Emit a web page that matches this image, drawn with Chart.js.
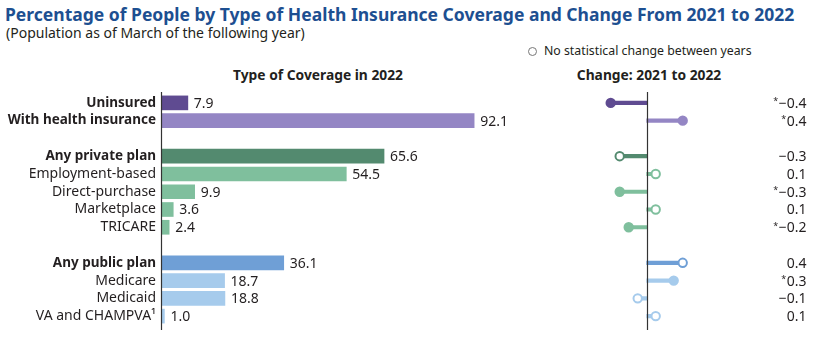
<!DOCTYPE html>
<html>
<head>
<meta charset="utf-8">
<script src="https://cdn.jsdelivr.net/npm/chart.js@4/dist/chart.umd.min.js"></script>
<style>
    body { margin: 0; background: #fff; font-family: "Noto Sans", sans-serif; }
    #wrap { position: relative; width: 832px; height: 350px; overflow: hidden; }
    .txt { position: absolute; white-space: nowrap; color: #231f20; }
    #title { left: 5px; top: 2px; font-size: 17.5px; font-weight: bold; color: #1d4f91; }
    #subtitle { left: 6px; top: 23px; font-size: 14px; }
    #legend { left: 528px; top: 42px; font-size: 12.3px; }
    #legend span.dot { display: inline-block; width: 7px; height: 7px; border: 1.5px solid #777; border-radius: 50%; margin-right: 7px; vertical-align: -1px; }
    .head { top: 65px; font-size: 13.8px; font-weight: bold; transform: translateX(-50%); }
    canvas { position: absolute; top: 0; }
</style>
</head>
<body>
<div id="wrap">
    <div class="txt" id="title">Percentage of People by Type of Health Insurance Coverage and Change From 2021 to 2022</div>
    <div class="txt" id="subtitle">(Population as of March of the following year)</div>
    <div class="txt" id="legend"><span class="dot"></span>No statistical change between years</div>
    <div class="txt head" style="left:318px">Type of Coverage in 2022</div>
    <div class="txt head" style="left:649px">Change: 2021 to 2022</div>
    <canvas id="coverage" style="left:0" width="560" height="350"></canvas>
    <canvas id="change" style="left:560px" width="272" height="350"></canvas>
</div>
<script>
const categories = ['Uninsured', 'With health insurance', '', 'Any private plan', 'Employment-based',
    'Direct-purchase', 'Marketplace', 'TRICARE', '', 'Any public plan', 'Medicare', 'Medicaid', 'VA and CHAMPVA\u00b9'];
const coverage2022 = [7.9, 92.1, null, 65.6, 54.5, 9.9, 3.6, 2.4, null, 36.1, 18.7, 18.8, 1.0];
const change = [-0.4, 0.4, null, -0.3, 0.1, -0.3, 0.1, -0.2, null, 0.4, 0.3, -0.1, 0.1];
const significant = [true, true, null, false, false, true, false, true, null, false, true, false, false];
const headerRows = [true, true, false, true, false, false, false, false, false, true, false, false, false];

const rowColors = ['#5f4b91', '#9486c4', null, '#538a6f', '#7fbf9d', '#7fbf9d', '#7fbf9d', '#7fbf9d',
    null, '#6f9fd6', '#a6cbec', '#a6cbec', '#a6cbec'];

const FONT = '"Noto Sans", sans-serif';
const TEXT = '#231f20';

// vertical axis line drawn by hand so it runs a bit past the rows
function axisLine(xOf) {
    return {
        id: 'axisLine',
        afterDatasetsDraw(chart) {
            const ctx = chart.ctx;
            const x = Math.round(xOf(chart)) + 0.5;
            ctx.save();
            ctx.strokeStyle = '#333';
            ctx.lineWidth = 1.2;
            ctx.beginPath();
            ctx.moveTo(x, 92);
            ctx.lineTo(x, 330);
            ctx.stroke();
            ctx.restore();
        }
    };
}

const barLabels = {
    id: 'barLabels',
    afterDatasetsDraw(chart) {
        const ctx = chart.ctx;
        const meta = chart.getDatasetMeta(0);
        ctx.save();
        ctx.font = '14px ' + FONT;
        ctx.fillStyle = TEXT;
        ctx.textBaseline = 'middle';
        meta.data.forEach((bar, i) => {
            if (coverage2022[i] == null) return;
            ctx.fillText(coverage2022[i].toFixed(1), bar.x + 6, bar.y + 1);
        });
        ctx.restore();
    }
};

new Chart(document.getElementById('coverage'), {
    type: 'bar',
    data: {
        labels: categories,
        datasets: [{
            data: coverage2022,
            backgroundColor: rowColors,
            barThickness: 14,
        }]
    },
    options: {
        indexAxis: 'y',
        responsive: false,
        animation: false,
        layout: { padding: { top: 94, bottom: 25, right: 59, left: 0 } },
        plugins: { legend: { display: false }, tooltip: { enabled: false } },
        scales: {
            x: { display: false, min: 0, max: 100 },
            y: {
                afterFit: (scale) => { scale.width = 161; },
                grid: { display: false, drawTicks: false },
                border: { display: false },
                ticks: {
                    autoSkip: false,
                    padding: 5,
                    color: TEXT,
                    font: (c) => headerRows[c.index]
                        ? { family: FONT, size: 13.5, weight: 'bold' }
                        : { family: FONT, size: 14, weight: 'normal' },
                }
            }
        }
    },
    plugins: [barLabels, axisLine(chart => chart.chartArea.left)]
});

const changeLabels = {
    id: 'changeLabels',
    afterDatasetsDraw(chart) {
        const ctx = chart.ctx;
        const yScale = chart.scales.y;
        const right = 246.5;
        ctx.save();
        ctx.fillStyle = TEXT;
        ctx.textBaseline = 'middle';
        ctx.textAlign = 'right';
        change.forEach((v, i) => {
            if (v == null) return;
            const y = yScale.getPixelForValue(i) + 1;
            const txt = (v < 0 ? '\u2212' : '') + Math.abs(v).toFixed(1);
            ctx.font = '14px ' + FONT;
            ctx.fillText(txt, right, y);
            if (significant[i]) {
                const w = ctx.measureText(txt).width;
                ctx.font = '9px ' + FONT;
                ctx.fillText('*', right - w - 0.5, y - 2);
            }
        });
        ctx.restore();
    }
};

new Chart(document.getElementById('change'), {
    type: 'bar',
    data: {
        labels: categories,
        datasets: [{
            type: 'bar',
            indexAxis: 'y',
            order: 2,
            data: change,
            backgroundColor: rowColors,
            barThickness: 3.5,
        }, {
            type: 'line',
            indexAxis: 'y',
            order: 1,
            data: change,
            showLine: false,
            pointRadius: 4.2,
            pointBorderWidth: 2,
            pointBorderColor: rowColors,
            pointBackgroundColor: rowColors.map((c, i) => significant[i] ? c : '#fff'),
        }]
    },
    options: {
        indexAxis: 'y',
        responsive: false,
        animation: false,
        layout: { padding: { top: 94, bottom: 25, left: 32.7, right: 131.3 } },
        plugins: { legend: { display: false }, tooltip: { enabled: false } },
        scales: {
            x: { display: false, min: -0.6, max: 0.6 },
            y: { display: false }
        }
    },
    plugins: [changeLabels, axisLine(chart => chart.scales.x.getPixelForValue(0))]
});
</script>
</body>
</html>
